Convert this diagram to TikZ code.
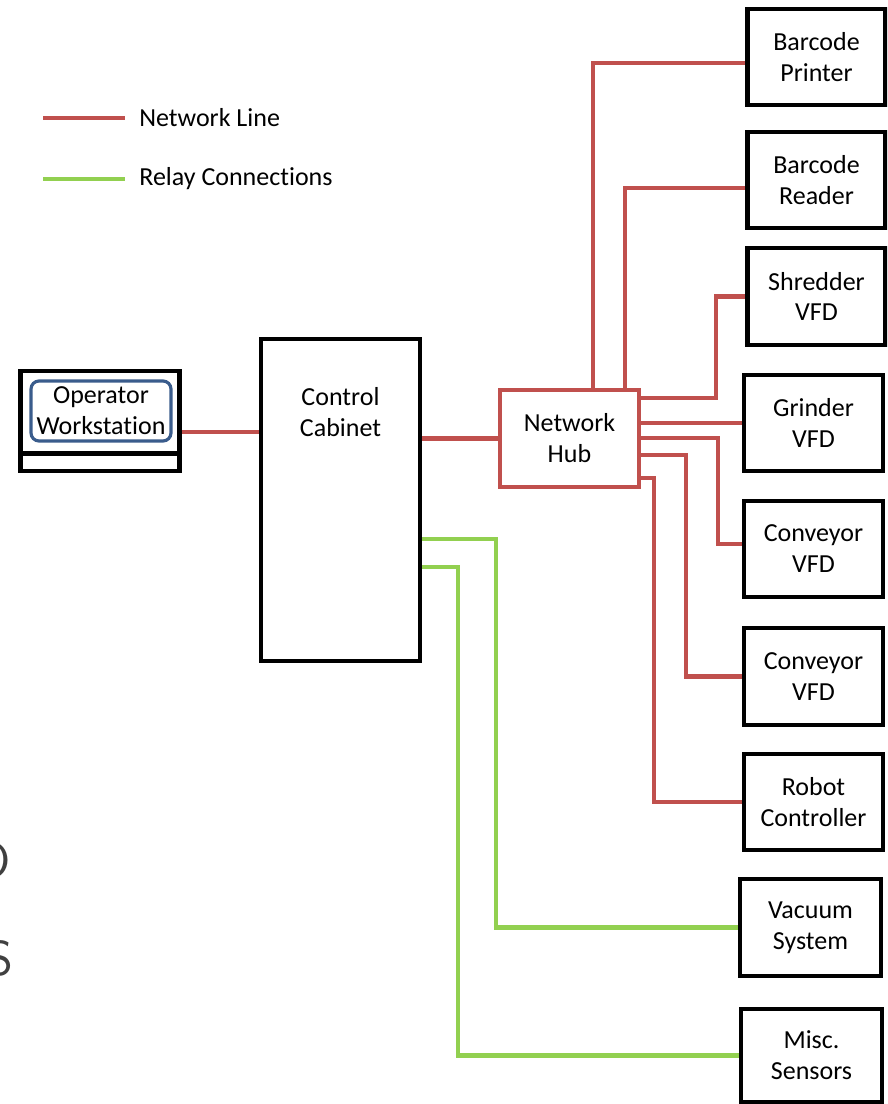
\documentclass[tikz,border=0pt]{standalone}
\usepackage{fontspec}
\setmainfont{Carlito}[Ligatures=NoCommon]
\usetikzlibrary{positioning}

\definecolor{netred}{RGB}{192,80,77}
\definecolor{relaygreen}{RGB}{146,208,80}
\definecolor{wsblue}{RGB}{58,92,140}

\begin{document}
\begin{tikzpicture}[x=0.02cm, y=-0.02cm,
  every node/.style={font=\fontsize{14.8}{17.6}\selectfont},
  block/.style={draw, line width=2.4pt, minimum width=2.76cm, minimum height=1.93cm, align=center, inner sep=0pt},
  hubbox/.style={draw=netred, line width=2.3pt, minimum width=2.78cm, minimum height=1.94cm, align=center, inner sep=0pt},
  netline/.style={draw=netred, line width=2.3pt},
  relayline/.style={draw=relaygreen, line width=2.3pt}]

  \useasboundingbox (0,0) rectangle (887,1104);
  \clip (0,0) rectangle (887,1104);

  % Legend
  \coordinate (netA) at (43,118);
  \coordinate (netB) at (125,118);
  \coordinate (relA) at (43,179);
  \coordinate (relB) at (125,179);
  \draw[netline] (netA) -- (netB);
  \draw[relayline] (relA) -- (relB);
  \node[right=0.28cm of netB, inner sep=0pt] (netlbl) {Network Line};
  \node[right=0.28cm of relB, inner sep=0pt] (rellbl) {Relay Connections};

  % Workstation
  \node[block, minimum width=3.18cm, minimum height=2.0cm] (wsframe) at (100,421) {};
  \node[draw=wsblue, line width=1.8pt, rounded corners=0.16cm, minimum width=2.8cm, minimum height=1.2cm, align=center, inner sep=0pt] (ws) at (101,411) {Operator\\Workstation};
  \draw[line width=2.9pt] ([yshift=0.4cm]wsframe.south west) -- ([yshift=0.4cm]wsframe.south east);

  % Cabinet and hub
  \node[block, minimum width=3.18cm, minimum height=6.44cm] (cab) at (340.5,500) {};
  \node[align=center] (cablbl) at (340.5,412) {Control\\Cabinet};
  \node[hubbox] (hub) at (569.5,438.5) {Network\\Hub};

  % Right column
  \node[block] (bp) at (816.5,57) {Barcode\\Printer};
  \node[block] (br) at (816.5,180) {Barcode\\Reader};
  \node[block] (sv) at (816.5,296.5) {Shredder\\VFD};
  \node[block, minimum width=2.78cm] (gv) at (813.5,423) {Grinder\\VFD};
  \node[block, minimum width=2.78cm] (cv1) at (813.5,549) {Conveyor\\VFD};
  \node[block, minimum width=2.78cm] (cv2) at (813.5,676.5) {Conveyor\\VFD};
  \node[block, minimum width=2.78cm] (rc) at (813.5,802) {Robot\\Controller};
  \node[block, minimum width=2.82cm] (vac) at (810.5,927.5) {Vacuum\\System};
  \node[block, minimum width=2.82cm, minimum height=1.86cm] (misc) at (811.5,1055.5) {Misc.\\Sensors};

  % Network lines
  \coordinate (wsport) at ([yshift=-0.22cm]wsframe.east);
  \draw[netline] (wsport) -- (wsport -| cab.west);
  \draw[netline] (hub.west -| cab.east) -- (hub.west);
  \draw[netline] ([xshift=0.47cm]hub.north) |- ([yshift=-0.12cm]bp.west);
  \draw[netline] ([xshift=1.11cm]hub.north) |- ([yshift=-0.16cm]br.west);
  \draw[netline] ([yshift=-0.2cm]hub.north east) -| ([xshift=-0.58cm]sv.west) -- (sv.west);
  \draw[netline] (hub.east |- gv.west) -- (gv.west);
  \draw[netline] ([yshift=-1cm]hub.north east) -| ([xshift=-0.48cm,yshift=0.1cm]cv1.west) -- ([yshift=0.1cm]cv1.west);
  \draw[netline] ([yshift=-1.34cm]hub.north east) -| ([xshift=-1.12cm]cv2.west) -- (cv2.west);
  \draw[netline] ([yshift=-1.8cm]hub.north east) -| ([xshift=-1.76cm]rc.west) -- (rc.west);

  % Relay lines
  \draw[relayline] ([yshift=-0.78cm]cab.east) -| ([xshift=-4.84cm]vac.west) -- (vac.west);
  \draw[relayline] ([yshift=-1.34cm]cab.east) -| ([xshift=-5.62cm]misc.west) -- (misc.west);

  % Cut-off letters at the left edge
  \node[anchor=east, inner sep=0pt, text=black!75, font=\sffamily\fontsize{28}{30}\selectfont] (cutO) at (11,860) {O};
  \node[anchor=east, inner sep=0pt, text=black!75, font=\sffamily\fontsize{28}{30}\selectfont] (cutS) at (14,958) {S};

\end{tikzpicture}
\end{document}
